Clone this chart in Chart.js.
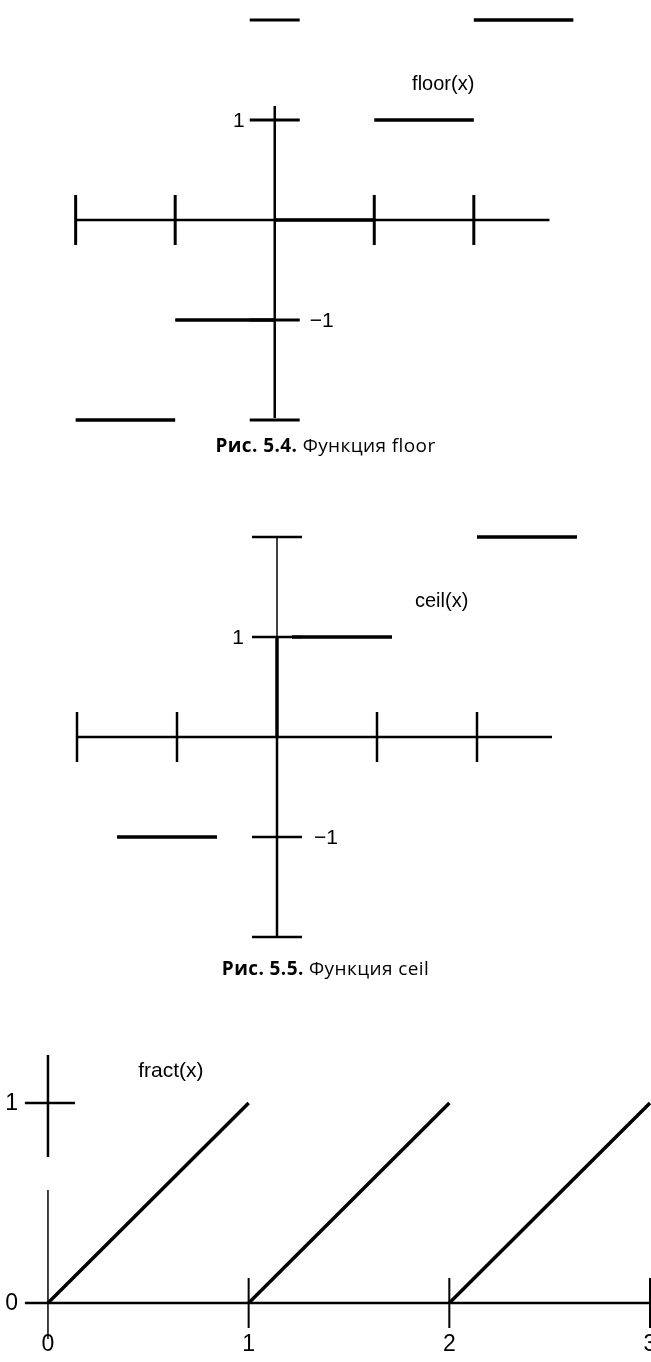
<!DOCTYPE html>
<html>
<head>
<meta charset="utf-8">
<script src="https://cdn.jsdelivr.net/npm/chart.js@4.4.1/dist/chart.umd.min.js"></script>
<style>
  html, body { margin: 0; padding: 0; background: #fff; }
  body { position: relative; width: 651px; height: 1362px; overflow: hidden; }
  canvas { position: absolute; left: 0; }
  .caption {
    position: absolute; left: 0; width: 651px; text-align: center;
    font-family: "Open Sans", sans-serif; font-size: 19px; letter-spacing: 0.4px;
    line-height: 24px; color: #000;
  }
  .caption b { font-weight: 700; }
</style>
</head>
<body>
<canvas id="floorChart" width="651" height="440" style="top:0"></canvas>
<div class="caption" style="top:433px"><b>Рис. 5.4.</b> Функция floor</div>
<canvas id="ceilChart" width="651" height="460" style="top:500px"></canvas>
<div class="caption" style="top:956px"><b>Рис. 5.5.</b> Функция ceil</div>
<canvas id="fractChart" width="651" height="332" style="top:1030px"></canvas>

<script>
// ===== DATA =====
// floor(x): horizontal steps
const floorSegStart = [-2, -1, 0, 1, 2];
const floorSegEnd = [-1, 0, 1, 2, 3];
const floorSegValue = [-2, -1, 0, 1, 2];
const floorXTicks = [-2, -1, 1, 2];
const floorYTicks = [2, 1, -1, -2];
const floorYLabelValues = [1, -1];
const floorYLabels = ['1', '\u22121'];

// ceil(x): steps as drawn in the figure
const ceilSegStart = [-1.6, 0.15, 2];
const ceilSegEnd = [-0.6, 1.15, 3];
const ceilSegValue = [-1, 1, 2];
const ceilXTicks = [-2, -1, 1, 2];
const ceilYTicks = [2, 1, -1, -2];
const ceilYLabelValues = [1, -1];
const ceilYLabels = ['1', '\u22121'];

// fract(x): saw teeth
const fractSegStart = [0, 1, 2];
const fractSegEnd = [1, 2, 3];
const fractStartValue = [0, 0, 0];
const fractEndValue = [1, 1, 1];
const fractXTicks = [1, 2, 3];
const fractXLabelValues = [0, 1, 2, 3];
const fractXLabels = ['0', '1', '2', '3'];
const fractYLabelValues = [0, 1];
const fractYLabels = ['0', '1'];

// ===== HELPERS =====
function stepPoints(starts, ends, values, endValues) {
    const pts = [];
    starts.forEach((s, i) => {
        pts.push({ x: s, y: values[i] });
        pts.push({ x: ends[i], y: endValues ? endValues[i] : values[i] });
        pts.push({ x: ends[i], y: null });
    });
    return pts;
}

// axes drawn through the chart's own scales
const crossAxes = {
    id: 'crossAxes',
    beforeDatasetsDraw(chart, args, opts) {
        const { ctx } = chart;
        const sx = chart.scales.x, sy = chart.scales.y;
        const X = v => sx.getPixelForValue(v);
        const Y = v => sy.getPixelForValue(v);
        ctx.save();
        ctx.strokeStyle = '#000';
        ctx.fillStyle = '#000';
        ctx.lineCap = 'butt';

        (opts.lines || []).forEach(l => {
            ctx.lineWidth = l.w;
            ctx.beginPath();
            ctx.moveTo(X(l.x0), Y(l.y0));
            ctx.lineTo(X(l.x1), Y(l.y1));
            ctx.stroke();
        });

        ctx.lineWidth = opts.tickWidth || 2;
        (opts.xTicks || []).forEach(v => {
            ctx.beginPath();
            ctx.moveTo(X(v), Y(0) - opts.tickLen);
            ctx.lineTo(X(v), Y(0) + opts.tickLen);
            ctx.stroke();
        });
        (opts.yTicks || []).forEach(v => {
            ctx.beginPath();
            ctx.moveTo(X(0) - opts.tickLen, Y(v));
            ctx.lineTo(X(0) + opts.tickLen, Y(v));
            ctx.stroke();
        });

        ctx.font = opts.labelFont;
        ctx.textBaseline = 'middle';
        (opts.yLabelValues || []).forEach((v, i) => {
            const txt = opts.yLabels[i];
            if (opts.yLabelSide && opts.yLabelSide[i] === 'right') {
                ctx.textAlign = 'left';
                ctx.fillText(txt, X(0) + opts.yLabelGapRight, Y(v) + 1);
            } else {
                ctx.textAlign = 'right';
                ctx.fillText(txt, X(0) - opts.yLabelGap, Y(v) + 1);
            }
        });
        ctx.textAlign = 'center';
        ctx.textBaseline = 'middle';
        (opts.xLabelValues || []).forEach((v, i) => {
            ctx.fillText(opts.xLabels[i], X(v), Y(0) + opts.xLabelGap);
        });

        if (opts.title) {
            ctx.font = opts.titleFont;
            ctx.textAlign = 'left';
            ctx.textBaseline = 'alphabetic';
            ctx.fillText(opts.title, X(opts.titleAt[0]), Y(opts.titleAt[1]));
        }
        ctx.restore();
    }
};

function makeChart(id, datasets, xRange, yRange, axesOpts) {
    return new Chart(document.getElementById(id), {
        type: 'scatter',
        data: { datasets: datasets },
        options: {
            responsive: false,
            animation: false,
            events: [],
            layout: { padding: 0 },
            scales: {
                x: { type: 'linear', min: xRange[0], max: xRange[1], display: false },
                y: { type: 'linear', min: yRange[0], max: yRange[1], display: false }
            },
            plugins: {
                legend: { display: false },
                tooltip: { enabled: false },
                crossAxes: axesOpts
            }
        },
        plugins: [crossAxes]
    });
}

function segDataset(points, width) {
    return {
        data: points,
        showLine: true,
        spanGaps: false,
        borderColor: '#000',
        borderWidth: width,
        pointRadius: 0,
        tension: 0
    };
}

const labelFont = '21px "Liberation Sans", Arial, sans-serif';
const titleFont = '20px "Liberation Sans", Arial, sans-serif';

// ===== CHARTS =====
makeChart('floorChart',
    [segDataset(stepPoints(floorSegStart, floorSegEnd, floorSegValue), 3.5)],
    [-2.76, 3.78], [-2.2, 2.2],
    {
        lines: [
            { x0: -2, y0: 0, x1: 2.76, y1: 0, w: 2.5 },
            { x0: 0, y0: 1.14, x1: 0, y1: -1.98, w: 2.5 }
        ],
        xTicks: floorXTicks, yTicks: floorYTicks,
        tickLen: 25, tickWidth: 3,
        yLabelValues: floorYLabelValues, yLabels: floorYLabels,
        yLabelSide: ['left', 'right'], yLabelGap: 30, yLabelGapRight: 35,
        labelFont: labelFont,
        title: 'floor(x)', titleAt: [1.38, 1.30],
        titleFont: titleFont
    });

makeChart('ceilChart',
    [segDataset(stepPoints(ceilSegStart, ceilSegEnd, ceilSegValue), 3.5)],
    [-2.77, 3.74], [-2.23, 2.37],
    {
        lines: [
            { x0: -2, y0: 0, x1: 2.75, y1: 0, w: 2.5 },
            { x0: 0, y0: 2, x1: 0, y1: 1, w: 1.5 },
            { x0: 0, y0: 1, x1: 0, y1: 0, w: 3.5 },
            { x0: 0, y0: 0, x1: 0, y1: -2, w: 2.5 }
        ],
        xTicks: ceilXTicks, yTicks: ceilYTicks,
        tickLen: 25, tickWidth: 2.5,
        yLabelValues: ceilYLabelValues, yLabels: ceilYLabels,
        yLabelSide: ['left', 'right'], yLabelGap: 33, yLabelGapRight: 37,
        labelFont: labelFont,
        title: 'ceil(x)', titleAt: [1.38, 1.30],
        titleFont: titleFont
    });

makeChart('fractChart',
    [segDataset(stepPoints(fractSegStart, fractSegEnd, fractStartValue, fractEndValue), 3.5)],
    [-0.239, 3.005], [-0.295, 1.365],
    {
        lines: [
            { x0: -0.115, y0: 0, x1: 3, y1: 0, w: 2.5 },
            { x0: 0, y0: 1.24, x1: 0, y1: 0.73, w: 2.5 },
            { x0: 0, y0: 0.565, x1: 0, y1: -0.18, w: 1.5 },
            { x0: -0.115, y0: 1, x1: 0.135, y1: 1, w: 2.5 }
        ],
        xTicks: fractXTicks,
        tickLen: 25, tickWidth: 2,
        yLabelValues: fractYLabelValues, yLabels: fractYLabels,
        yLabelGap: 30,
        xLabelValues: fractXLabelValues, xLabels: fractXLabels, xLabelGap: 42,
        labelFont: '23px "Liberation Sans", Arial, sans-serif',
        title: 'fract(x)', titleAt: [0.45, 1.13],
        titleFont: '21px "Liberation Sans Narrow", "Liberation Sans", Arial, sans-serif'
    });
</script>
</body>
</html>
